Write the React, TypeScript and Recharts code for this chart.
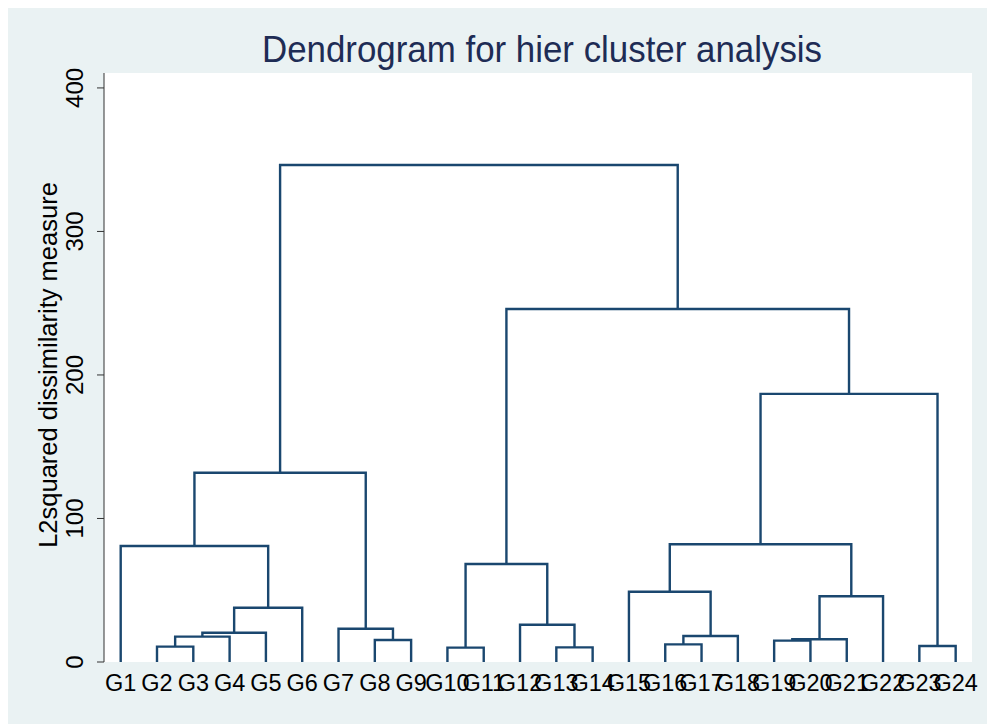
import React from "react";
import { LineChart, Line, XAxis, YAxis, CartesianGrid } from "recharts";

const leafLabels = [
  "G1", "G2", "G3", "G4", "G5", "G6", "G7", "G8", "G9", "G10", "G11", "G12",
  "G13", "G14", "G15", "G16", "G17", "G18", "G19", "G20", "G21", "G22", "G23", "G24",
];

// merge k creates node "M{k+1}"
const mergeLeft = [
  "G2", "M1", "M2", "M3", "G1", "G8", "G7", "M5",
  "G10", "G13", "G12", "M9", "G16", "M13", "G15", "G19", "M16", "M17", "M15", "G23", "M19", "M12", "M8",
];
const mergeRight = [
  "G3", "G4", "G5", "G6", "M4", "G9", "M6", "M7",
  "G11", "G14", "M10", "M11", "G17", "G18", "M14", "G20", "G21", "G22", "M18", "G24", "M20", "M21", "M22",
];
const mergeHeight = [
  10.7, 17.7, 20.4, 37.8, 80.8, 15.3, 23.2, 131.9,
  10.0, 10.2, 26.0, 68.3, 12.3, 18.1, 49.0, 14.9, 15.8, 45.8, 82.0, 11.1, 186.8, 246.0, 346.3,
];

const yTicks = [0, 100, 200, 300, 400];
const leafTicks = leafLabels.map((_, i) => i + 1);

const FONT = "'Liberation Sans', Arial, Helvetica, sans-serif";
const LINE_COLOR = "#1A476F";
const BG = "#EAF2F3";

function buildLinks() {
  const pos: Record<string, { x: number; h: number }> = {};
  leafLabels.forEach((l, i) => {
    pos[l] = { x: i + 1, h: 0 };
  });
  return mergeLeft.map((l, k) => {
    const a = pos[l];
    const b = pos[mergeRight[k]];
    const h = mergeHeight[k];
    pos["M" + (k + 1)] = { x: (a.x + b.x) / 2, h };
    return [
      { x: a.x, y: a.h },
      { x: a.x, y: h },
      { x: b.x, y: h },
      { x: b.x, y: b.h },
    ];
  });
}

const links = buildLinks();

const XTick = (props: any) => {
  const { x, y, payload } = props;
  return (
    <text
      x={x}
      y={y + 28.7}
      textAnchor="middle"
      fontFamily={FONT}
      fontSize={23.5}
      fill="#000"
    >
      {leafLabels[payload.value - 1]}
    </text>
  );
};

const YTick = (props: any) => {
  const { x, y, payload } = props;
  const bx = x - 13.7;
  return (
    <text
      x={bx}
      y={y}
      transform={`rotate(-90, ${bx}, ${y})`}
      textAnchor="middle"
      fontFamily={FONT}
      fontSize={24}
      fill="#000"
    >
      {payload.value}
    </text>
  );
};

export default function App() {
  return (
    <div
      style={{
        position: "fixed",
        left: 0,
        top: 0,
        width: 987,
        height: 724,
        background: "#FFFFFF",
        overflow: "hidden",
      }}
    >
      <div
        style={{
          position: "absolute",
          left: 8,
          top: 8,
          width: 979,
          height: 716,
          background: BG,
        }}
      >
        <LineChart
          width={979}
          height={716}
          margin={{ top: 65, right: 15, bottom: 32, left: 36 }}
        >
          <CartesianGrid
            horizontal={false}
            vertical={false}
            fill="#FFFFFF"
            stroke="none"
          />
          <XAxis
            type="number"
            dataKey="x"
            domain={[0.54, 24.45]}
            ticks={leafTicks}
            interval={0}
            height={30}
            axisLine={false}
            tickLine={false}
            tickSize={0}
            tickMargin={0}
            tick={<XTick />}
            allowDataOverflow
          />
          <YAxis
            type="number"
            dataKey="y"
            domain={[0, 410.4]}
            ticks={yTicks}
            width={60}
            tickSize={7}
            tickMargin={0}
            axisLine={{ stroke: "#333333", strokeWidth: 1 }}
            tickLine={{ stroke: "#333333", strokeWidth: 1 }}
            tick={<YTick />}
            allowDataOverflow
          />
          {links.map((d, i) => (
            <Line
              key={i}
              data={d}
              dataKey="y"
              type="linear"
              stroke={LINE_COLOR}
              strokeWidth={2.4}
              dot={false}
              activeDot={false}
              isAnimationActive={false}
            />
          ))}
        </LineChart>
        <svg
          width={979}
          height={716}
          style={{ position: "absolute", left: 0, top: 0, pointerEvents: "none" }}
        >
          <text
            x={534}
            y={53.5}
            textAnchor="middle"
            fontFamily={FONT}
            fontSize={36}
            textLength={560}
            lengthAdjust="spacingAndGlyphs"
            fill="#1E2C55"
          >
            Dendrogram for hier cluster analysis
          </text>
          <text
            x={48.7}
            y={357}
            transform="rotate(-90, 48.7, 357)"
            textAnchor="middle"
            fontFamily={FONT}
            fontSize={25.5}
            fill="#000"
          >
            L2squared dissimilarity measure
          </text>
        </svg>
      </div>
    </div>
  );
}
